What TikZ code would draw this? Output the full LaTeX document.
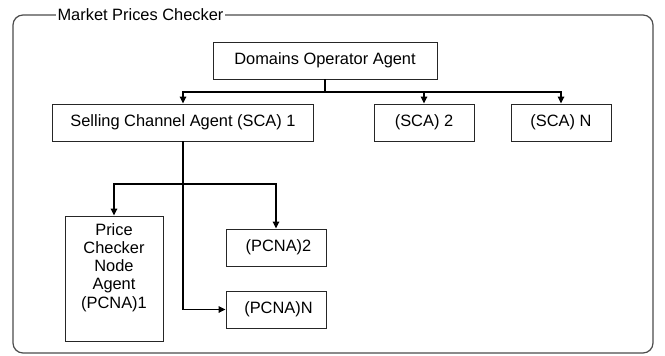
\documentclass[tikz,border=0pt]{standalone}
\usepackage{fontspec}
\setmainfont{Liberation Sans}
\usetikzlibrary{arrows.meta}
\begin{document}
\begin{tikzpicture}[x=1pt,y=-1pt,
  every node/.style={font=\fontsize{16.4}{18.3}\selectfont},
  agentbox/.style={draw=black!85, line width=0.9pt, inner sep=0pt, align=center},
  conn/.style={line width=1.5pt, black},
  arr/.style={conn, -{Triangle[length=7pt,width=6.5pt]}},
  frame/.style={draw=black!70, line width=1.2pt, rounded corners=10pt}]
\useasboundingbox (0,0) rectangle (665,356);
\draw[frame] (13,15) rectangle (653,353);
\node[fill=white, inner xsep=2pt, inner ysep=1pt] (title) at (140.5,15) {Market Prices Checker};

\node[agentbox, minimum width=224pt, minimum height=37pt] (doa) at (325,60.5) {Domains Operator Agent};
\node[agentbox, minimum width=261pt, minimum height=37pt] (sca1) at (183,122.5) {Selling Channel Agent (SCA) 1};
\node[agentbox, minimum width=100pt, minimum height=37pt] (sca2) at (424,122.5) {(SCA) 2};
\node[agentbox, minimum width=100pt, minimum height=37pt] (scan) at (561,122.5) {(SCA) N};

\node[agentbox, minimum width=98pt, minimum height=125pt] (pcna1) at (114,278.5) {};
\node[align=center, anchor=north, inner sep=0pt] (pcna1t) at (114,223) {Price\\Checker\\Node\\Agent\\(PCNA)1};
\node[agentbox, minimum width=100pt, minimum height=37pt] (pcna2) at (276,247.5) {\hspace{5pt}(PCNA)2};
\node[agentbox, minimum width=100pt, minimum height=37pt] (pcnan) at (276,309.5) {\hspace{5pt}(PCNA)N};

\coordinate (j1) at (325,92);
\coordinate (j2) at (183,184);

\draw[conn] (doa.south) -- (j1);
\draw[arr] (j1) -| (sca1.north);
\draw[arr] (j1) -| (sca2.north);
\draw[arr] (j1) -| (scan.north);

\draw[conn] (sca1.south) -- (j2);
\draw[arr] (j2) -| (pcna1.north);
\draw[arr] (j2) -| (pcna2.north);
\draw[arr] (j2) |- (pcnan.west);
\end{tikzpicture}
\end{document}
